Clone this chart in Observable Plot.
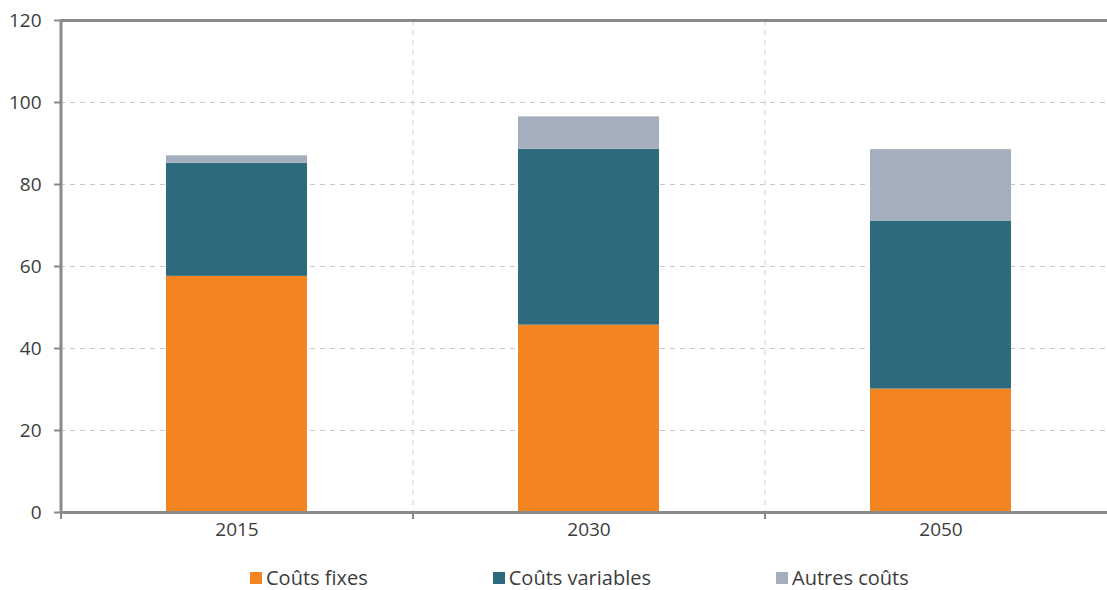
<!DOCTYPE html>
<html>
<head>
<meta charset="utf-8">
<script src="https://cdn.jsdelivr.net/npm/d3@7"></script>
<script src="https://cdn.jsdelivr.net/npm/@observablehq/plot@0.6"></script>
<style>
  html, body { margin: 0; padding: 0; background: #fff; overflow: hidden; }
  #chart { position: relative; width: 1107px; height: 590px; font-family: "Open Sans", sans-serif; }
  #legend { position: absolute; left: 250px; top: 564px; display: flex; gap: 125px; font-size: 20px; line-height: 28px; color: #3c3c3c; }
  .item { display: flex; align-items: center; }
  .sw { width: 12px; height: 12px; margin-right: 4px; }
</style>
</head>
<body>
<div id="chart"></div>
<script>
const years = ["2015", "2030", "2050"];
const series = ["Coûts fixes", "Coûts variables", "Autres coûts"];
const fixes = [57.6, 45.7, 30.1];
const variables = [27.6, 42.9, 41.0];
const autres = [1.8, 7.9, 17.4];
const colors = ["#F28522", "#2E6A7E", "#A4AEBC"];
const yTicks = [0, 20, 40, 60, 80, 100, 120];

const data = years.flatMap((y, i) => [
  {year: y, serie: series[0], value: fixes[i]},
  {year: y, serie: series[1], value: variables[i]},
  {year: y, serie: series[2], value: autres[i]}
]);

const x0 = 60, x1 = 1116;
const step = (x1 - x0) / years.length;
const axisGray = "#8a8a8a";

const plot = Plot.plot({
  width: 1107,
  height: 555,
  marginLeft: 60,
  marginTop: 20,
  marginBottom: 43,
  marginRight: 0,
  style: {fontFamily: "'Open Sans', sans-serif", fontSize: "19px", color: "#3c3c3c", overflow: "hidden"},
  x: {type: "band", domain: years, range: [x0, x1], paddingInner: 0.6, paddingOuter: 0.3, label: null},
  y: {domain: [0, 120], label: null},
  color: {domain: series, range: colors},
  marks: [
    Plot.gridY(yTicks.filter(t => t > 0 && t < 120), {stroke: "#c8c8c8", strokeOpacity: 1, strokeDasharray: "5,5"}),
    Plot.ruleX(years.slice(1), {dx: -step / 2, stroke: "#d0d0d0", strokeDasharray: "5,5"}),
    Plot.barY(data, Plot.stackY({x: "year", y: "value", fill: "serie", order: series})),
    Plot.ruleY([120], {stroke: axisGray, strokeWidth: 3}),
    Plot.ruleY([0], {stroke: axisGray, strokeWidth: 3}),
    Plot.ruleX(years.slice(0, 1), {dx: -step / 2, stroke: axisGray, strokeWidth: 3}),
    Plot.axisX(years, {dx: -step / 2, tickSize: 7, text: null, stroke: axisGray, strokeWidth: 2}),
    Plot.axisX({tickSize: 0, tickPadding: 10, fontSize: 19, fill: "#3c3c3c", label: null}),
    Plot.axisY({ticks: yTicks, tickSize: 6, tickPadding: 13, fontSize: 19, fill: "#3c3c3c", stroke: axisGray, strokeWidth: 2, label: null})
  ]
});

const chart = document.getElementById("chart");
chart.appendChild(plot);

const legend = document.createElement("div");
legend.id = "legend";
series.forEach((s, i) => {
  const it = document.createElement("div");
  it.className = "item";
  const sw = document.createElement("span");
  sw.className = "sw";
  sw.style.background = colors[i];
  const tx = document.createElement("span");
  tx.textContent = s;
  it.appendChild(sw);
  it.appendChild(tx);
  legend.appendChild(it);
});
chart.appendChild(legend);
</script>
</body>
</html>
